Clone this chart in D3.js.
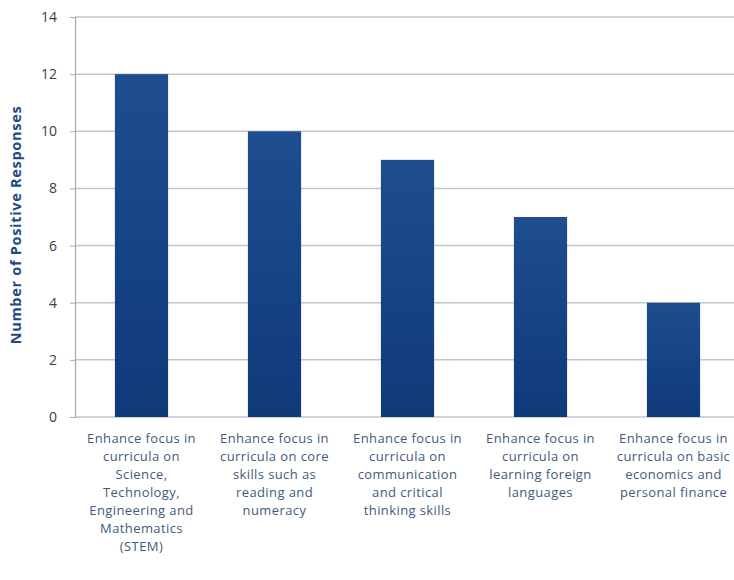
<!DOCTYPE html>
<html>
<head>
<meta charset="utf-8">
<script src="https://cdn.jsdelivr.net/npm/d3@7"></script>
<style>
  body { margin: 0; background: #fff; }
  svg { display: block; }
</style>
</head>
<body>
<div id="chart"></div>
<script>
var categories = [
  ["Enhance focus in", "curricula on", "Science,", "Technology,", "Engineering and", "Mathematics", "(STEM)"],
  ["Enhance focus in", "curricula on core", "skills such as", "reading and", "numeracy"],
  ["Enhance focus in", "curricula on", "communication", "and critical", "thinking skills"],
  ["Enhance focus in", "curricula on", "learning foreign", "languages"],
  ["Enhance focus in", "curricula on basic", "economics and", "personal finance"]
];
var responses = [12, 10, 9, 7, 4];
var y_ticks = [0, 2, 4, 6, 8, 10, 12, 14];

var width = 734, height = 580;
var margins = { top: 17, right: -6, bottom: 163, left: 75 };

var svg = d3
  .select("#chart")
  .append("svg")
  .attr("width", width)
  .attr("height", height);

var grad = svg
  .append("defs")
  .append("linearGradient")
  .attr("id", "bar-grad")
  .attr("x1", 0).attr("y1", 0)
  .attr("x2", 0).attr("y2", 1);
grad.append("stop").attr("offset", "0%").attr("stop-color", "#1e4d90");
grad.append("stop").attr("offset", "100%").attr("stop-color", "#0f3a7a");

var x = d3
  .scaleBand()
  .domain(d3.range(categories.length))
  .range([margins.left, width - margins.right])
  .paddingInner(0.6)
  .paddingOuter(0.3);

var y = d3
  .scaleLinear()
  .domain([0, 14])
  .range([height - margins.bottom, margins.top]);

// gridlines
svg
  .selectAll(".grid")
  .data(y_ticks)
  .enter()
  .append("line")
  .attr("x1", margins.left)
  .attr("x2", width)
  .attr("y1", (d) => y(d))
  .attr("y2", (d) => y(d))
  .attr("stroke", "#c6c6c9")
  .attr("stroke-width", 1.5);

// y axis
var y_axis = d3.axisLeft(y).tickValues(y_ticks).tickSize(5).tickPadding(13);
var yg = svg
  .append("g")
  .attr("transform", "translate(" + margins.left + ",0)")
  .call(y_axis);
yg.select(".domain").attr("stroke", "#a8a8a8").attr("stroke-width", 1.2);
yg.selectAll(".tick line").attr("stroke", "#a8a8a8");
yg.selectAll(".tick text")
  .attr("fill", "#404040")
  .attr("font-family", "Open Sans, sans-serif")
  .attr("font-size", "14px");

// bars
svg
  .selectAll(".bar")
  .data(responses)
  .enter()
  .append("rect")
  .attr("class", "bar")
  .attr("x", (d, i) => x(i))
  .attr("y", (d) => y(d))
  .attr("width", x.bandwidth())
  .attr("height", (d) => y(0) - y(d))
  .attr("fill", "url(#bar-grad)");

// category labels
var labels = svg
  .selectAll(".cat")
  .data(categories)
  .enter()
  .append("text")
  .attr("class", "cat")
  .attr("text-anchor", "middle")
  .attr("fill", "#3f5a7e")
  .attr("font-family", "Open Sans, sans-serif")
  .attr("font-size", "13px")
  .attr("letter-spacing", "0.4px");

labels
  .selectAll("tspan")
  .data((d, i) => d.map((t) => ({ t: t, i: i })))
  .enter()
  .append("tspan")
  .attr("x", (d) => x(d.i) + x.bandwidth() / 2)
  .attr("y", (d, j) => y(0) + 26 + j * 18)
  .text((d) => d.t);

// y axis title
svg
  .append("text")
  .attr("transform", "translate(21," + (y(7) + 8) + ") rotate(-90)")
  .attr("text-anchor", "middle")
  .attr("fill", "#1f4a85")
  .attr("font-family", "Open Sans, sans-serif")
  .attr("font-weight", "bold")
  .attr("font-size", "14.5px")
  .attr("letter-spacing", "0.7px")
  .text("Number of Positive Responses");
</script>
</body>
</html>
